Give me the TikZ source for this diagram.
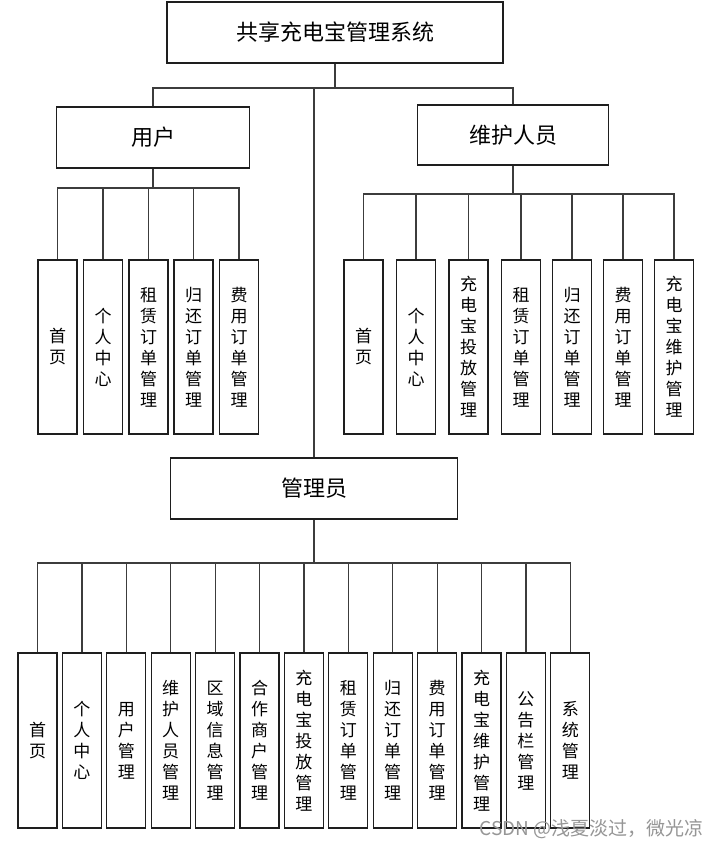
\documentclass[tikz,border=0pt]{standalone}
\usepackage{fontspec}
\newfontfamily\cjk{Noto Sans CJK SC}
\definecolor{boxline}{RGB}{30,30,30}
\definecolor{conn}{RGB}{60,60,60}
\definecolor{wm}{RGB}{150,150,150}
\begin{document}
\begin{tikzpicture}[x=1pt,y=-1pt,
  bigbox/.style={draw=boxline,line width=1.2pt,fill=white,inner sep=0pt,
    font=\cjk\fontsize{22}{24}\selectfont},
  leaf/.style={draw=boxline,line width=1.2pt,fill=white,inner sep=0pt,
    minimum width=39pt,align=center,
    font=\cjk\fontsize{17}{21}\selectfont},
  conn/.style={draw=conn,line width=1.2pt}]
\path[fill=white] (0,0) rectangle (719,848);
\useasboundingbox (0,0) rectangle (719,848);

% main boxes
\node[bigbox,minimum width=336pt,minimum height=61pt] (top) at (335,32.5) {共享充电宝管理系统};
\node[bigbox,minimum width=193pt,minimum height=61pt] (user) at (153,137.5) {用户};
\node[bigbox,minimum width=191pt,minimum height=60pt] (maint) at (513,135) {维护人员};
\node[bigbox,minimum width=287pt,minimum height=61pt] (admin) at (314,488.5) {管理员};

% top-level connectors
\coordinate (j0) at (335,88);
\coordinate (jt) at (314,88);
\draw[conn] (top.south) -- (j0);
\draw[conn] (user.north) |- (j0) -| (maint.north);
\draw[conn] (jt) -- (admin.north);

% user children
\foreach \i/\x/\t in {1/57.5/首\\页, 2/103/个\\人\\中\\心, 3/148.5/租\\赁\\订\\单\\管\\理,
  4/193.5/归\\还\\订\\单\\管\\理, 5/239/费\\用\\订\\单\\管\\理}
  \node[leaf,minimum height=174pt] (u\i) at (\x,347) {\t};
\coordinate (uj) at (153,188);
\draw[conn] (user.south) -- (uj);
\foreach \i in {1,...,5} \draw[conn] (u\i.north) |- (uj);

% maintenance children
\foreach \i/\x/\t in {1/363.5/首\\页, 2/416/个\\人\\中\\心, 3/468.5/充\\电\\宝\\投\\放\\管\\理,
  4/521/租\\赁\\订\\单\\管\\理, 5/572/归\\还\\订\\单\\管\\理, 6/623/费\\用\\订\\单\\管\\理,
  7/674/充\\电\\宝\\维\\护\\管\\理}
  \node[leaf,minimum height=174pt] (m\i) at (\x,347) {\t};
\coordinate (mj) at (513,194);
\draw[conn] (maint.south) -- (mj);
\foreach \i in {1,...,7} \draw[conn] (m\i.north) |- (mj);

% admin children
\foreach \i/\t in {1/首\\页, 2/个\\人\\中\\心, 3/用\\户\\管\\理, 4/维\\护\\人\\员\\管\\理,
  5/区\\域\\信\\息\\管\\理, 6/合\\作\\商\\户\\管\\理, 7/充\\电\\宝\\投\\放\\管\\理,
  8/租\\赁\\订\\单\\管\\理, 9/归\\还\\订\\单\\管\\理, 10/费\\用\\订\\单\\管\\理,
  11/充\\电\\宝\\维\\护\\管\\理, 12/公\\告\\栏\\管\\理, 13/系\\统\\管\\理}
  \node[leaf,minimum height=175pt] (a\i) at ({37.5+44.4*(\i-1)},740.5) {\t};
\coordinate (aj) at (314,563);
\draw[conn] (admin.south) -- (aj);
\foreach \i in {1,...,13} \draw[conn] (a\i.north) |- (aj);

% watermark
\node[anchor=east,inner sep=0pt,text=wm,font=\cjk\fontsize{19}{21}\selectfont] (wmark) at (704,829) {CSDN @浅夏淡过，微光凉};
\end{tikzpicture}
\end{document}
